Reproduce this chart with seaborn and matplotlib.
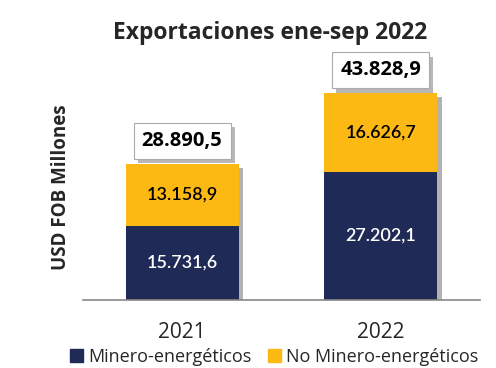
import pandas as pd
import seaborn as sns
import matplotlib.pyplot as plt
import matplotlib.patheffects as pe

# Data
years = ["2021", "2022"]
minero = [15731.6, 27202.1]
no_minero = [13158.9, 16626.7]
totals = [28890.5, 43828.9]
minero_lbl = ["15.731,6", "27.202,1"]
no_minero_lbl = ["13.158,9", "16.626,7"]
total_lbl = ["28.890,5", "43.828,9"]

navy = "#1f2a56"
gold = "#fdb913"

sns.set_style("white")
plt.rcParams["font.family"] = ["Open Sans", "DejaVu Sans"]

df = pd.DataFrame({"year": years, "minero": minero, "total": [m + n for m, n in zip(minero, no_minero)]})

fig = plt.figure(figsize=(4.96, 3.68), dpi=100)
ax = fig.add_axes([0.167, 0.185, 0.801, 0.705])

shadow = [pe.SimplePatchShadow(offset=(3, -3), shadow_rgbFace="#555555", alpha=0.45), pe.Normal()]

# stacked bars: total in gold, then the bottom segment in navy on top of it
sns.barplot(data=df, x="year", y="total", color=gold, saturation=1, width=0.57, ax=ax)
sns.barplot(data=df, x="year", y="minero", color=navy, saturation=1, width=0.57, ax=ax)
for p in ax.patches:
    p.set_edgecolor("none")
for p in ax.patches[:2]:
    p.set_path_effects(shadow)

seg_font = ["Lato", "DejaVu Sans"]
for i in range(len(years)):
    ax.text(i, minero[i] / 2, minero_lbl[i], ha="center", va="center", color="white",
            fontsize=13, fontweight="semibold", family=seg_font)
    ax.text(i, minero[i] + no_minero[i] / 2, no_minero_lbl[i], ha="center", va="center", color="black",
            fontsize=13, fontweight="semibold", family=seg_font)
    ax.text(i, totals[i] + 2700, total_lbl[i], ha="center", va="bottom", color="black",
            fontsize=14.5, fontweight="bold",
            bbox=dict(boxstyle="square,pad=0.4", fc="white", ec="#aaaaaa", lw=0.8,
                      path_effects=[pe.SimplePatchShadow(offset=(3, -3), alpha=0.4), pe.Normal()]))

ax.set_ylim(0, 55000)
ax.set_xlim(-0.5, 1.5)
ax.set_yticks([])
ax.set_xlabel("")
ax.set_ylabel("USD FOB Millones", fontsize=13.5, fontweight="bold")
ax.yaxis.set_label_coords(-0.03, 0.435)
ax.tick_params(axis="x", which="major", length=0, labelsize=15, pad=16)
ax.set_xticks([-0.5, 0.5, 1.5], minor=True)
ax.tick_params(axis="x", which="minor", length=5, color="#888888", width=1, direction="out")
sns.despine(ax=ax, left=True)
ax.spines["bottom"].set_color("#888888")
ax.spines["bottom"].set_linewidth(1.2)

fig.text(0.545, 0.91, "Exportaciones ene-sep 2022", ha="center", va="center", fontsize=16.5, fontweight="bold")

handles = [plt.Rectangle((0, 0), 1, 1, color=navy), plt.Rectangle((0, 0), 1, 1, color=gold)]
fig.legend(handles, ["Minero-energéticos", "No Minero-energéticos"], loc="center", bbox_to_anchor=(0.553, 0.03),
           ncol=2, frameon=False, fontsize=13, handlelength=0.7, handleheight=0.7, handletextpad=0.3, columnspacing=0.9)

fig.savefig("out.png", dpi=100)
